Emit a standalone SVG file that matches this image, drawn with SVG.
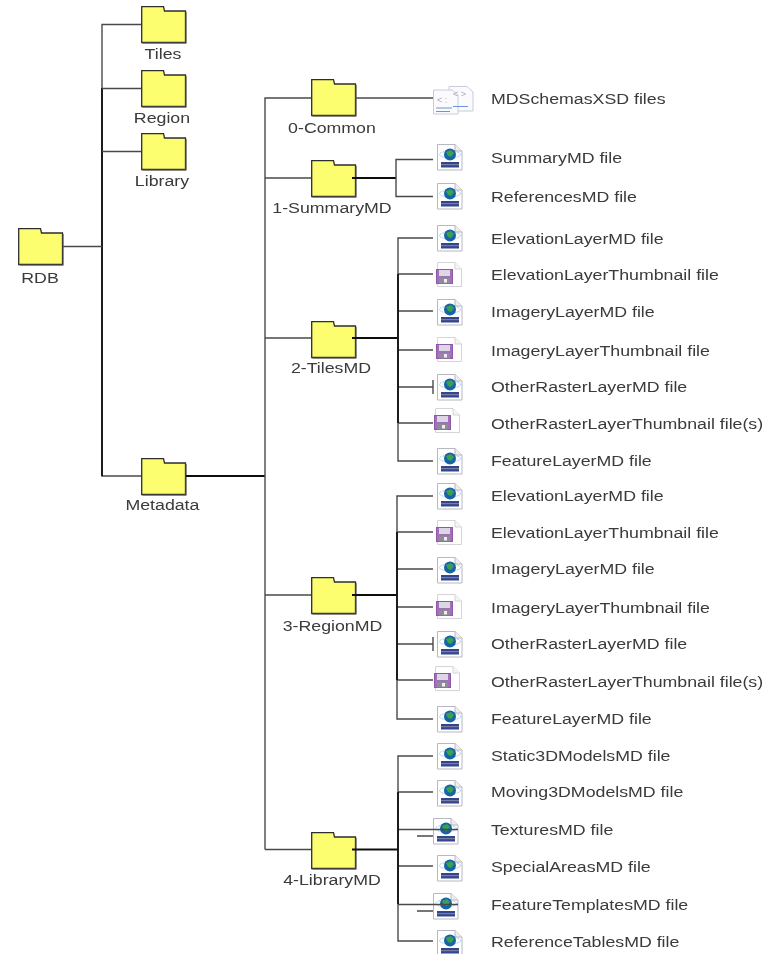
<svg xmlns="http://www.w3.org/2000/svg" width="775" height="954" viewBox="0 0 775 954">
<style>
text{font-family:"Liberation Sans",Arial,sans-serif;font-size:15.5px;fill:#3a3a3a;transform:scaleX(1.145);transform-box:fill-box;transform-origin:left center}
.c{text-anchor:middle;transform-origin:center}
.m{font-size:9px;fill:#aaa;transform:none}
#connectors path{fill:none;stroke:#4a4a4a;stroke-width:1.4}
#connectors .t{stroke:#111;stroke-width:1.8}
#all{filter:url(#soft)}
</style>
<defs>
<filter id="soft" x="0" y="0" width="100%" height="100%"><feGaussianBlur stdDeviation="0.35"/></filter>
<symbol id="folder" width="46" height="38" viewBox="0 0 46 38" overflow="visible">
<path d="M.7.7H22.500L23.500 5H44.500V36.500H.7Z" fill="#fdfd70" stroke="#2e2e2e" stroke-width="1.3"/>
<path d="M1.500 37.300H45.300V6" fill="none" stroke="#777" stroke-width="1"/>
</symbol>
<symbol id="doc" width="26" height="27" viewBox="0 0 26 27">
<path d="M.5.5H18L25 7V26H.5Z" fill="#fff" stroke="#b8b8c0"/>
<path d="M18 .5V7H25" fill="#eee" stroke="#b8b8c0"/>
<ellipse cx="13" cy="10.500" rx="10.500" ry="3.400" fill="none" stroke="#9cc4ec" stroke-dasharray="2 1"/>
<circle cx="13" cy="10.500" r="6" fill="#1464a8"/>
<path d="M9 8l5-2 3 3-3 4-3-1Z" fill="#3ca050"/>
<rect x="4" y="18" width="18" height="5.500" fill="#34458c"/>
<path d="M4 20.700H22" stroke="#aab" stroke-width=".7"/>
</symbol>
<symbol id="disk" width="28" height="27" viewBox="0 0 28 27">
<path d="M2.500.5H20L26.500 7V24.500H2.500Z" fill="#fff" stroke="#d4d4da"/>
<path d="M20 .5V7H26.500" fill="#f4f4f4" stroke="#d4d4da"/>
<rect x="1.500" y="7.500" width="16" height="14" fill="#a070b8" stroke="#9058a8"/>
<rect x="4" y="8" width="11" height="6" fill="#ddd6e4"/>
<rect x="4" y="16" width="11" height="5.500" fill="#8f8c98"/>
<rect x="9" y="17" width="3" height="3.500" fill="#eee"/>
</symbol>
<symbol id="xsd" width="44" height="30" viewBox="0 0 44 30">
<path d="M16 1.500H34L40 7V26H16Z" fill="#fbfbff" stroke="#c8ccd8"/>
<path d="M.5 5H19L25 10V29H.5Z" fill="#fbfbff" stroke="#c8ccd8"/>
<path d="M3 23H19M3 26.500H17M20 21.500H35" stroke="#6a96d8" stroke-width="1.200"/>
<text class="m" x="4" y="18">&lt; :</text>
<text class="m" x="20" y="12">&lt; &gt;</text>
</symbol>
</defs>
<g id="all">
<g id="rdb"><use href="#folder" x="18" y="228"/><text class="c" x="40" y="283">RDB</text></g>
<g id="tiles"><use href="#folder" x="141" y="6"/><text class="c" x="163" y="59">Tiles</text></g>
<g id="region"><use href="#folder" x="141" y="70"/><text class="c" x="162" y="123">Region</text></g>
<g id="library"><use href="#folder" x="141" y="133"/><text class="c" x="162" y="186">Library</text></g>
<g id="metadata"><use href="#folder" x="141" y="458"/><text class="c" x="162.500" y="510">Metadata</text></g>
<g id="common"><use href="#folder" x="311" y="79"/><text class="c" x="332" y="133">0-Common</text></g>
<g id="summarymd"><use href="#folder" x="311" y="160"/><text class="c" x="332" y="213">1-SummaryMD</text></g>
<g id="tilesmd"><use href="#folder" x="311" y="321"/><text class="c" x="331" y="373">2-TilesMD</text></g>
<g id="regionmd"><use href="#folder" x="311" y="577"/><text class="c" x="332.500" y="631">3-RegionMD</text></g>
<g id="librarymd"><use href="#folder" x="311" y="832"/><text class="c" x="332" y="885">4-LibraryMD</text></g>
<g id="f-xsd"><use href="#xsd" x="433" y="85"/><text x="491" y="104">MDSchemasXSD files</text></g>
<g id="f-summary"><use href="#doc" x="437" y="144"/><text x="491" y="163">SummaryMD file</text></g>
<g id="f-references"><use href="#doc" x="437" y="183"/><text x="491" y="202">ReferencesMD file</text></g>
<g id="t1"><use href="#doc" x="437" y="225"/><text x="491" y="244">ElevationLayerMD file</text></g>
<g id="t2"><use href="#disk" x="435" y="262"/><text x="491" y="280">ElevationLayerThumbnail file</text></g>
<g id="t3"><use href="#doc" x="437" y="299"/><text x="491" y="317">ImageryLayerMD file</text></g>
<g id="t4"><use href="#disk" x="435" y="337"/><text x="491" y="356">ImageryLayerThumbnail file</text></g>
<g id="t5"><use href="#doc" x="437" y="374"/><text x="491" y="392">OtherRasterLayerMD file</text></g>
<g id="t6"><use href="#disk" x="433" y="408"/><text x="491" y="429">OtherRasterLayerThumbnail file(s)</text></g>
<g id="t7"><use href="#doc" x="437" y="448"/><text x="491" y="466">FeatureLayerMD file</text></g>
<g id="r1"><use href="#doc" x="437" y="483"/><text x="491" y="501">ElevationLayerMD file</text></g>
<g id="r2"><use href="#disk" x="435" y="520"/><text x="491" y="538">ElevationLayerThumbnail file</text></g>
<g id="r3"><use href="#doc" x="437" y="557"/><text x="491" y="574">ImageryLayerMD file</text></g>
<g id="r4"><use href="#disk" x="435" y="594"/><text x="491" y="613">ImageryLayerThumbnail file</text></g>
<g id="r5"><use href="#doc" x="437" y="631"/><text x="491" y="649">OtherRasterLayerMD file</text></g>
<g id="r6"><use href="#disk" x="433" y="666"/><text x="491" y="687">OtherRasterLayerThumbnail file(s)</text></g>
<g id="r7"><use href="#doc" x="437" y="706"/><text x="491" y="724">FeatureLayerMD file</text></g>
<g id="l1"><use href="#doc" x="437" y="743"/><text x="491" y="761">Static3DModelsMD file</text></g>
<g id="l2"><use href="#doc" x="437" y="780"/><text x="491" y="797">Moving3DModelsMD file</text></g>
<g id="l3"><use href="#doc" x="433" y="818"/><text x="491" y="835">TexturesMD file</text></g>
<g id="l4"><use href="#doc" x="437" y="855"/><text x="491" y="872">SpecialAreasMD file</text></g>
<g id="l5"><use href="#doc" x="433" y="893"/><text x="491" y="910">FeatureTemplatesMD file</text></g>
<g id="l6"><use href="#doc" x="437" y="930"/><text x="491" y="947">ReferenceTablesMD file</text></g>
<g id="connectors">
<path d="M141 24.500H102V476H141"/>
<path class="t" d="M102 88V476"/>
<path d="M102 88.500H141M102 151.500H141M63 246.500H102"/>
<path class="t" d="M186 476H265"/>
<path d="M265 849.500V98H311M265 178H311M265 338H311M265 595H311M265 849.500H311"/>
<path d="M355 98H433"/>
<path class="t" d="M352 178H396"/>
<path d="M433 159.500H396V196.500H433"/>
<path class="t" d="M352 338H398"/>
<path d="M433 238H398V461H433M398 274H433M398 311H433M398 350H433M398 387H433M433 380V394M398 423H433"/>
<path class="t" d="M398 274V423"/>
<path class="t" d="M352 595H397"/>
<path d="M433 496H397V719H433M397 532H433M397 569H433M397 607H433M397 644H433M433 637V651M397 680H433"/>
<path class="t" d="M397 532V680"/>
<path class="t" d="M352 849.500H398"/>
<path d="M433 756H398V941H433M398 792H433M398 829.500H458M417 836H433M398 866H433M398 904.500H458M417 911H433"/>
<path class="t" d="M398 792V904"/>
</g>
</g>
</svg>
